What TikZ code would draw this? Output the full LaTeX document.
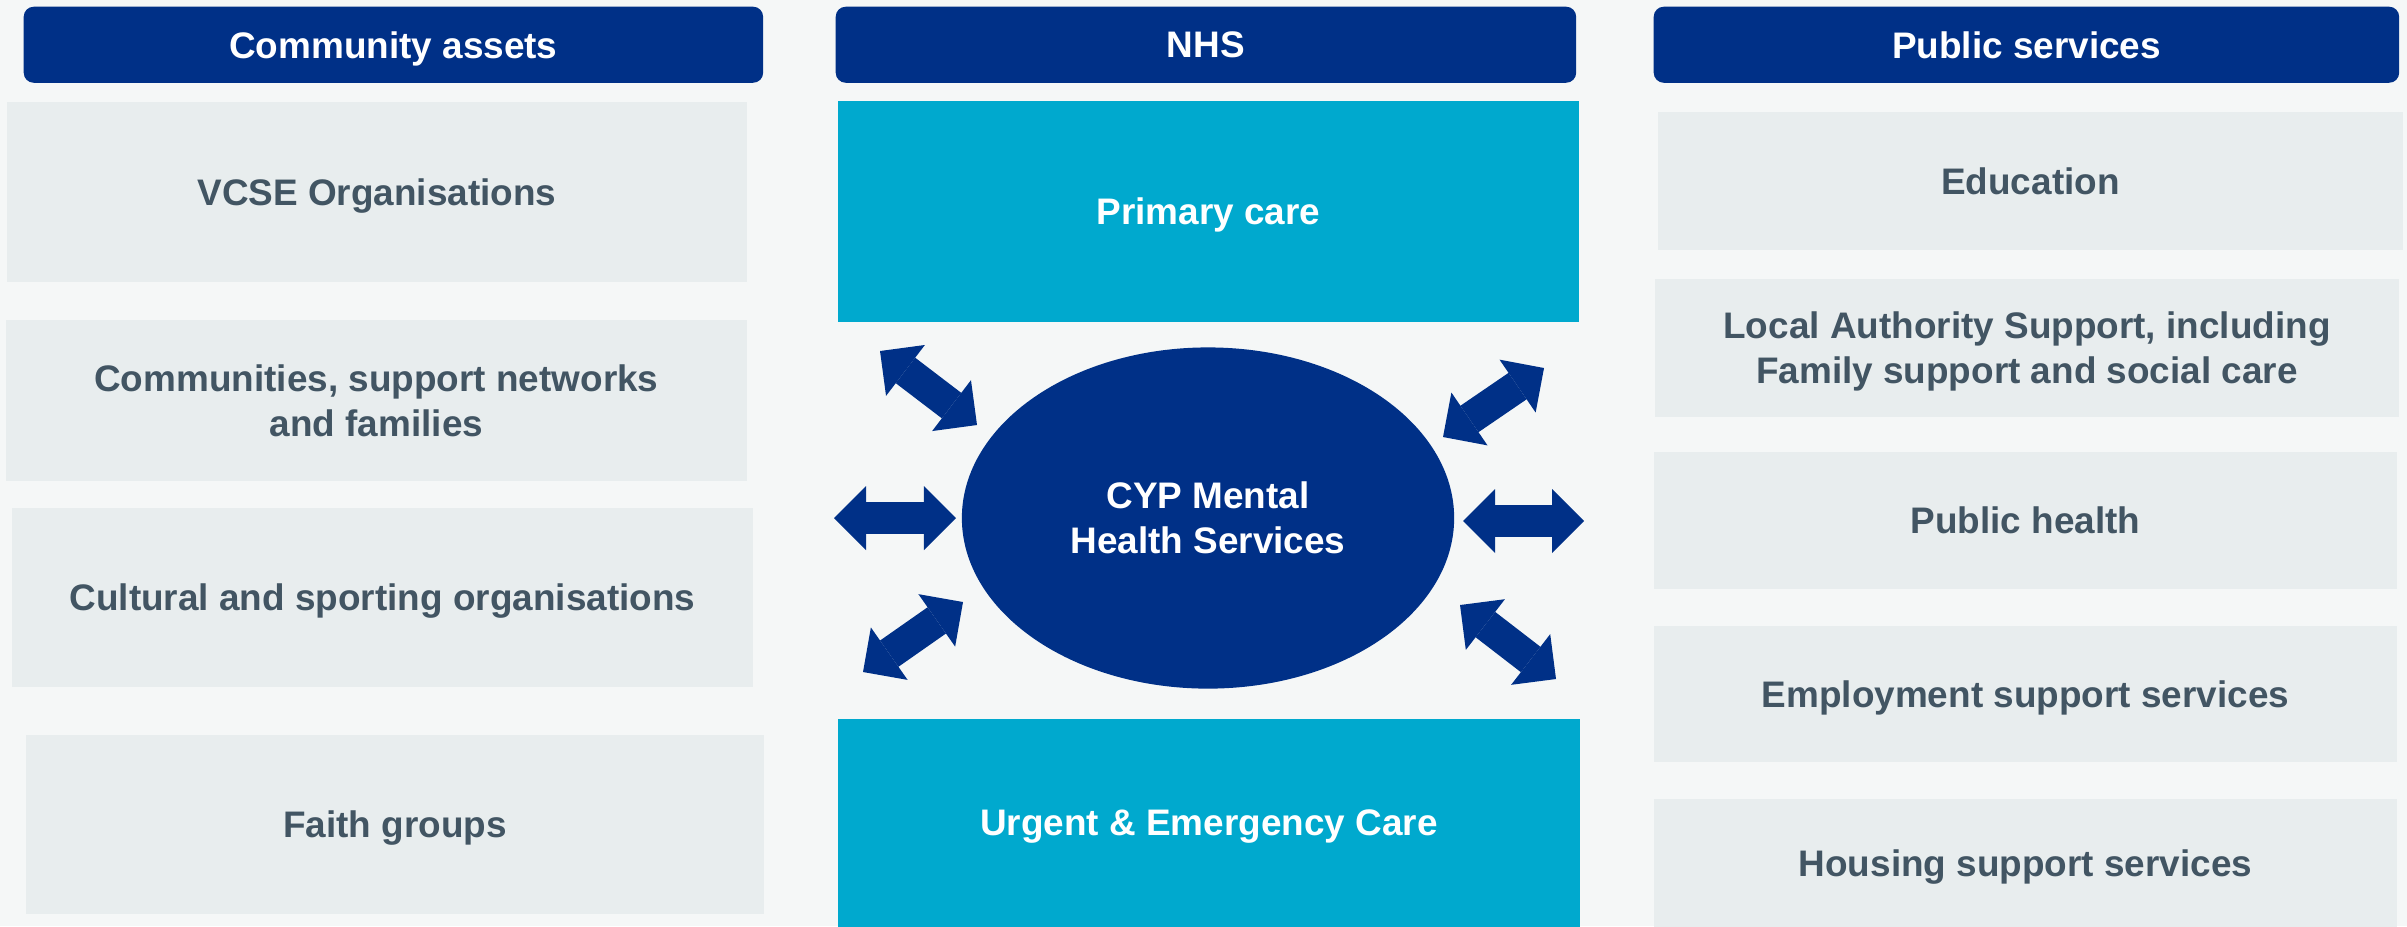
\documentclass[tikz,border=0pt]{standalone}
\usepackage{fontspec}
\setmainfont{Liberation Sans}
\usetikzlibrary{arrows.meta,shapes.geometric}
\definecolor{nhsblue}{HTML}{003087}
\definecolor{nhscyan}{HTML}{00A9CE}
\definecolor{palebox}{HTML}{E8EDEE}
\definecolor{bgcol}{HTML}{F5F7F7}
\definecolor{txtgrey}{HTML}{425563}
\begin{document}
\begin{tikzpicture}[x=0.01cm,y=-0.01cm,
  lbl/.style={font=\fontsize{10.5}{12.8}\selectfont\bfseries, align=center, inner sep=0pt, text depth=0pt, anchor=north west},
  header/.style={lbl, fill=nhsblue, text=white, rounded corners=0.1cm, minimum height=0.76cm},
  greybox/.style={lbl, fill=palebox, text=txtgrey},
  cyanbox/.style={lbl, fill=nhscyan, text=white},
  centre/.style={ellipse, fill=nhsblue, text=white, font=\fontsize{10.5}{12.8}\selectfont\bfseries, align=center, inner sep=0pt, minimum width=4.92cm, minimum height=3.41cm},
  dbl/.style={draw=nhsblue, line width=0.32cm, line cap=butt,
    {Triangle[length=0.32cm, width=0.64cm, line width=0pt]}-{Triangle[length=0.32cm, width=0.64cm, line width=0pt]}}
]
\fill[bgcol] (0,0) rectangle (2407,926);
\useasboundingbox (0,0) rectangle (2407,926);

% headers
\node[header, minimum width=7.39cm] (hca) at (23,6) {Community assets};
\node[header, minimum width=7.40cm] (hnhs) at (835,6) {NHS};
\node[header, minimum width=7.45cm] (hps) at (1653,6) {Public services};

% community assets
\node[greybox, minimum width=7.40cm, minimum height=1.80cm] (vcse) at (6,101) {VCSE Organisations};
\node[greybox, minimum width=7.41cm, minimum height=1.61cm] (comm) at (5,319) {Communities, support networks\\and families};
\node[greybox, minimum width=7.41cm, minimum height=1.79cm] (cult) at (11,507) {Cultural and sporting organisations};
\node[greybox, minimum width=7.38cm, minimum height=1.79cm] (faith) at (25,734) {Faith groups};

% NHS
\node[cyanbox, minimum width=7.41cm, minimum height=2.21cm] (prim) at (837,100) {Primary care};
\node[cyanbox, minimum width=7.42cm, minimum height=2.08cm] (urg) at (837,718) {Urgent \& Emergency Care};
\node[centre] (cyp) at (1208,518) {CYP Mental\\Health Services};

% public services
\node[greybox, minimum width=7.45cm, minimum height=1.38cm] (edu) at (1657,111) {Education};
\node[greybox, minimum width=7.44cm, minimum height=1.38cm] (la) at (1654,278) {Local Authority Support, including\\Family support and social care};
\node[greybox, minimum width=7.43cm, minimum height=1.37cm] (ph) at (1653,451) {Public health};
\node[greybox, minimum width=7.43cm, minimum height=1.36cm] (emp) at (1653,625) {Employment support services};
\node[greybox, minimum width=7.43cm, minimum height=1.28cm] (hous) at (1653,798) {Housing support services};

% arrow end points
\coordinate (ulA) at (880,351);  \coordinate (ulB) at (977,425);
\coordinate (lA)  at (834,518);  \coordinate (lB)  at (956,518);
\coordinate (llA) at (863,672);  \coordinate (llB) at (963,602);
\coordinate (urA) at (1544,368); \coordinate (urB) at (1443,437);
\coordinate (rA)  at (1463,521); \coordinate (rB)  at (1584,521);
\coordinate (lrA) at (1460,605); \coordinate (lrB) at (1556,679);

\draw[dbl] (ulA) -- (ulB);
\draw[dbl] (lA) -- (lB);
\draw[dbl] (llA) -- (llB);
\draw[dbl] (urA) -- (urB);
\draw[dbl] (rA) -- (rB);
\draw[dbl] (lrA) -- (lrB);
\end{tikzpicture}
\end{document}
